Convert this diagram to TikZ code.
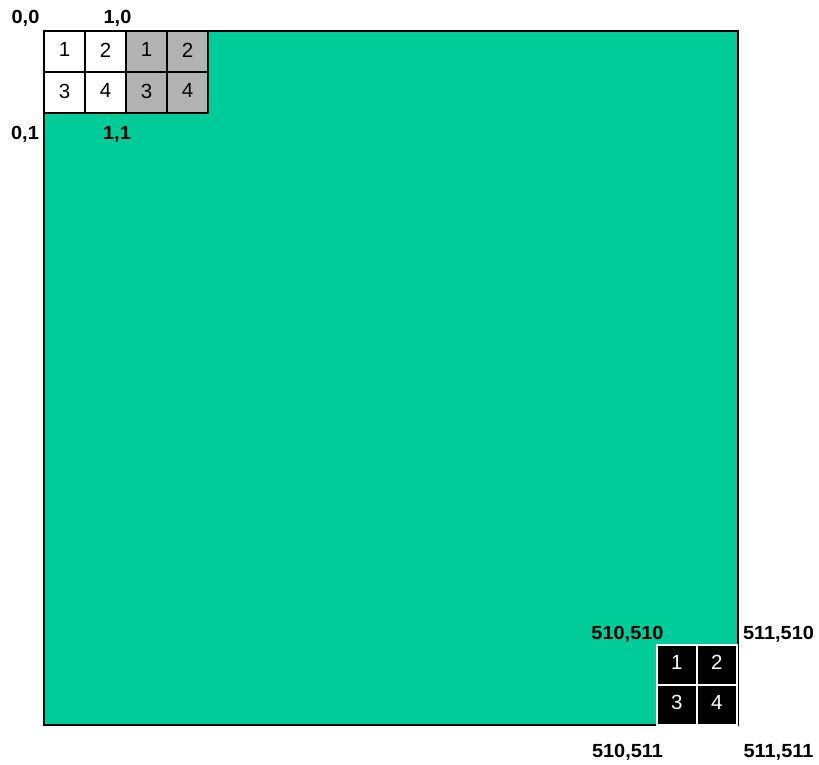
\documentclass[tikz,border=0pt]{standalone}
\usepackage{fontspec}
\setmainfont{Liberation Sans}
\definecolor{sqgreen}{HTML}{00CC99}
\definecolor{cellgray}{HTML}{B2B2B2}
\begin{document}
\begin{tikzpicture}[x=1pt,y=-1pt,
  lbl/.style={font=\fontsize{19}{21}\selectfont\bfseries, inner sep=0pt, text depth=0pt, xscale=1.05, transform shape},
  wcell/.style={draw=black, line width=2.2pt, fill=white, minimum width=41pt, minimum height=41pt, inner sep=0pt, anchor=north west, font=\fontsize{20.5}{22}\selectfont, text depth=0pt},
  gcell/.style={wcell, fill=cellgray},
  bcell/.style={draw=white, line width=1.5pt, fill=black, text=white, minimum width=40pt, minimum height=40pt, inner sep=0pt, anchor=north west, font=\fontsize{20.5}{22}\selectfont, text depth=0pt}]
\useasboundingbox (0,0) rectangle (819,765);
\node[draw=black, line width=1.8pt, fill=sqgreen, minimum width=694pt, minimum height=694pt, inner sep=0pt, anchor=north west] (big) at (43,30) {};
% top-left cells
\foreach \n/\x/\y in {1/43/30,2/84/30,3/43/71,4/84/71}
  \node[wcell] (w\n) at (\x,\y) {\raisebox{3.5pt}{\n}};
\foreach \n/\x/\y in {1/125/30,2/166/30,3/125/71,4/166/71}
  \node[gcell] (g\n) at (\x,\y) {\raisebox{3.5pt}{\n}};
% bottom-right cells
\foreach \n/\x/\y in {1/656/644,2/696/644,3/656/684,4/696/684}
  \node[bcell] (b\n) at (\x,\y) {\raisebox{5.5pt}{\n}};
% labels
\node[lbl] (l00) at (25.5,16.5) {0,0};
\node[lbl] (l10) at (117.5,16.5) {1,0};
\node[lbl] (l01) at (25,132.5) {0,1};
\node[lbl] (l11) at (117,132.5) {1,1};
\node[lbl] (l510510) at (627.5,632.5) {510,510};
\node[lbl] (l511510) at (778.5,632.5) {511,510};
\node[lbl] (l510511) at (627.5,750.5) {510,511};
\node[lbl] (l511511) at (778.5,750.5) {511,511};
\end{tikzpicture}
\end{document}
